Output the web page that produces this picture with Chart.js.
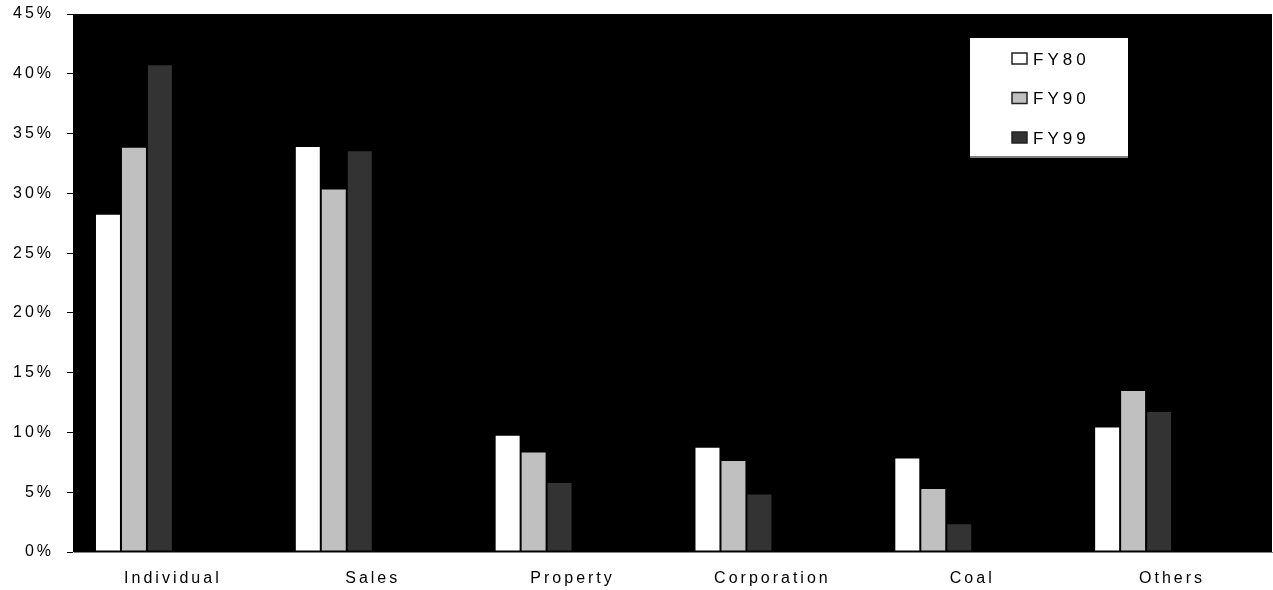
<!DOCTYPE html>
<html>
<head>
<meta charset="utf-8">
<style>
  html, body { margin: 0; padding: 0; background: #ffffff; }
  #wrap { width: 1273px; height: 590px; }
</style>
<script src="https://cdn.jsdelivr.net/npm/chart.js@4/dist/chart.umd.min.js"></script>
</head>
<body>
<div id="wrap"><canvas id="c" width="1273" height="590"></canvas></div>
<script>
const categories = ['Individual', 'Sales', 'Property', 'Corporation', 'Coal', 'Others'];
const fy80 = [28.3, 33.95, 9.8, 8.8, 7.9, 10.5];
const fy90 = [33.9, 30.4, 8.4, 7.7, 5.35, 13.55];
const fy99 = [40.8, 33.6, 5.85, 4.9, 2.4, 11.8];
const seriesLabels = ['FY80', 'FY90', 'FY99'];
const seriesColors = ['#ffffff', '#c0c0c0', '#333333'];
const yTicks = [0, 5, 10, 15, 20, 25, 30, 35, 40, 45];

const FONT = '"Liberation Sans", Arial, sans-serif';
const SPACING = '3px';

const spacingPlugin = {
  id: 'spacing',
  beforeUpdate(chart) { chart.ctx.letterSpacing = SPACING; },
  beforeDraw(chart) { chart.ctx.letterSpacing = SPACING; }
};

const plotBg = {
  id: 'plotBg',
  beforeDatasetsDraw(chart) {
    const { ctx, chartArea: a } = chart;
    ctx.save();
    ctx.fillStyle = '#000000';
    ctx.fillRect(a.left, a.top, a.right - a.left, a.bottom - a.top);
    ctx.restore();
  }
};

const boxLegend = {
  id: 'boxLegend',
  afterDatasetsDraw(chart) {
    const { ctx } = chart;
    const x0 = 970, y0 = 38, w = 158, h = 119;
    ctx.save();
    ctx.fillStyle = '#ffffff';
    ctx.fillRect(x0, y0, w, h);
    ctx.fillStyle = '#808080';
    ctx.fillRect(x0, y0 + h - 1, w, 2);
    const items = chart.data.datasets.filter(d => d.label);
    items.forEach((d, i) => {
      const cy = 59 + i * 39.5;
      ctx.fillStyle = d.backgroundColor;
      ctx.fillRect(1012, cy - 6, 15, 11);
      ctx.strokeStyle = '#222222';
      ctx.lineWidth = 1.5;
      ctx.strokeRect(1012, cy - 6, 15, 11);
      ctx.fillStyle = '#000000';
      ctx.font = '17px ' + FONT;
      ctx.letterSpacing = '4px';
      ctx.textBaseline = 'middle';
      ctx.textAlign = 'left';
      ctx.fillText(d.label, 1033, cy + 1);
    });
    ctx.restore();
  }
};

const series = [fy80, fy90, fy99];
const datasets = series.map((vals, i) => ({
  label: seriesLabels[i],
  data: vals,
  backgroundColor: seriesColors[i],
  borderColor: '#000000',
  borderWidth: 1,
  borderSkipped: false
}));
// three empty slots (as in the original spreadsheet layout)
for (let k = 0; k < 3; k++) {
  datasets.push({ label: '', data: categories.map(() => null), backgroundColor: 'rgba(0,0,0,0)' });
}

new Chart(document.getElementById('c'), {
  type: 'bar',
  data: { labels: categories, datasets },
  options: {
    responsive: false,
    animation: false,
    layout: { padding: { top: 14, right: 1, left: 0, bottom: 0 } },
    categoryPercentage: 0.78,
    barPercentage: 1.0,
    plugins: { legend: { display: false }, tooltip: { enabled: false } },
    scales: {
      x: {
        grid: { display: false, drawTicks: false },
        border: { display: true, color: '#808080', width: 1 },
        ticks: { color: '#000000', font: { size: 16, family: FONT }, padding: 17, maxRotation: 0 },
        afterFit(s) { s.height = 38; }
      },
      y: {
        min: 0, max: 45,
        afterBuildTicks(s) { s.ticks = yTicks.map(v => ({ value: v })); },
        grid: { drawOnChartArea: false, drawTicks: true, tickLength: 6, tickColor: '#000000' },
        border: { display: true, color: '#c8c8c8', width: 1 },
        ticks: { color: '#000000', font: { size: 16, family: FONT }, padding: 13, callback: v => v + '%' },
        afterFit(s) { s.width = 73; s.paddingTop = 0; s.paddingBottom = 0; }
      }
    }
  },
  plugins: [spacingPlugin, plotBg, boxLegend]
});
</script>
</body>
</html>
